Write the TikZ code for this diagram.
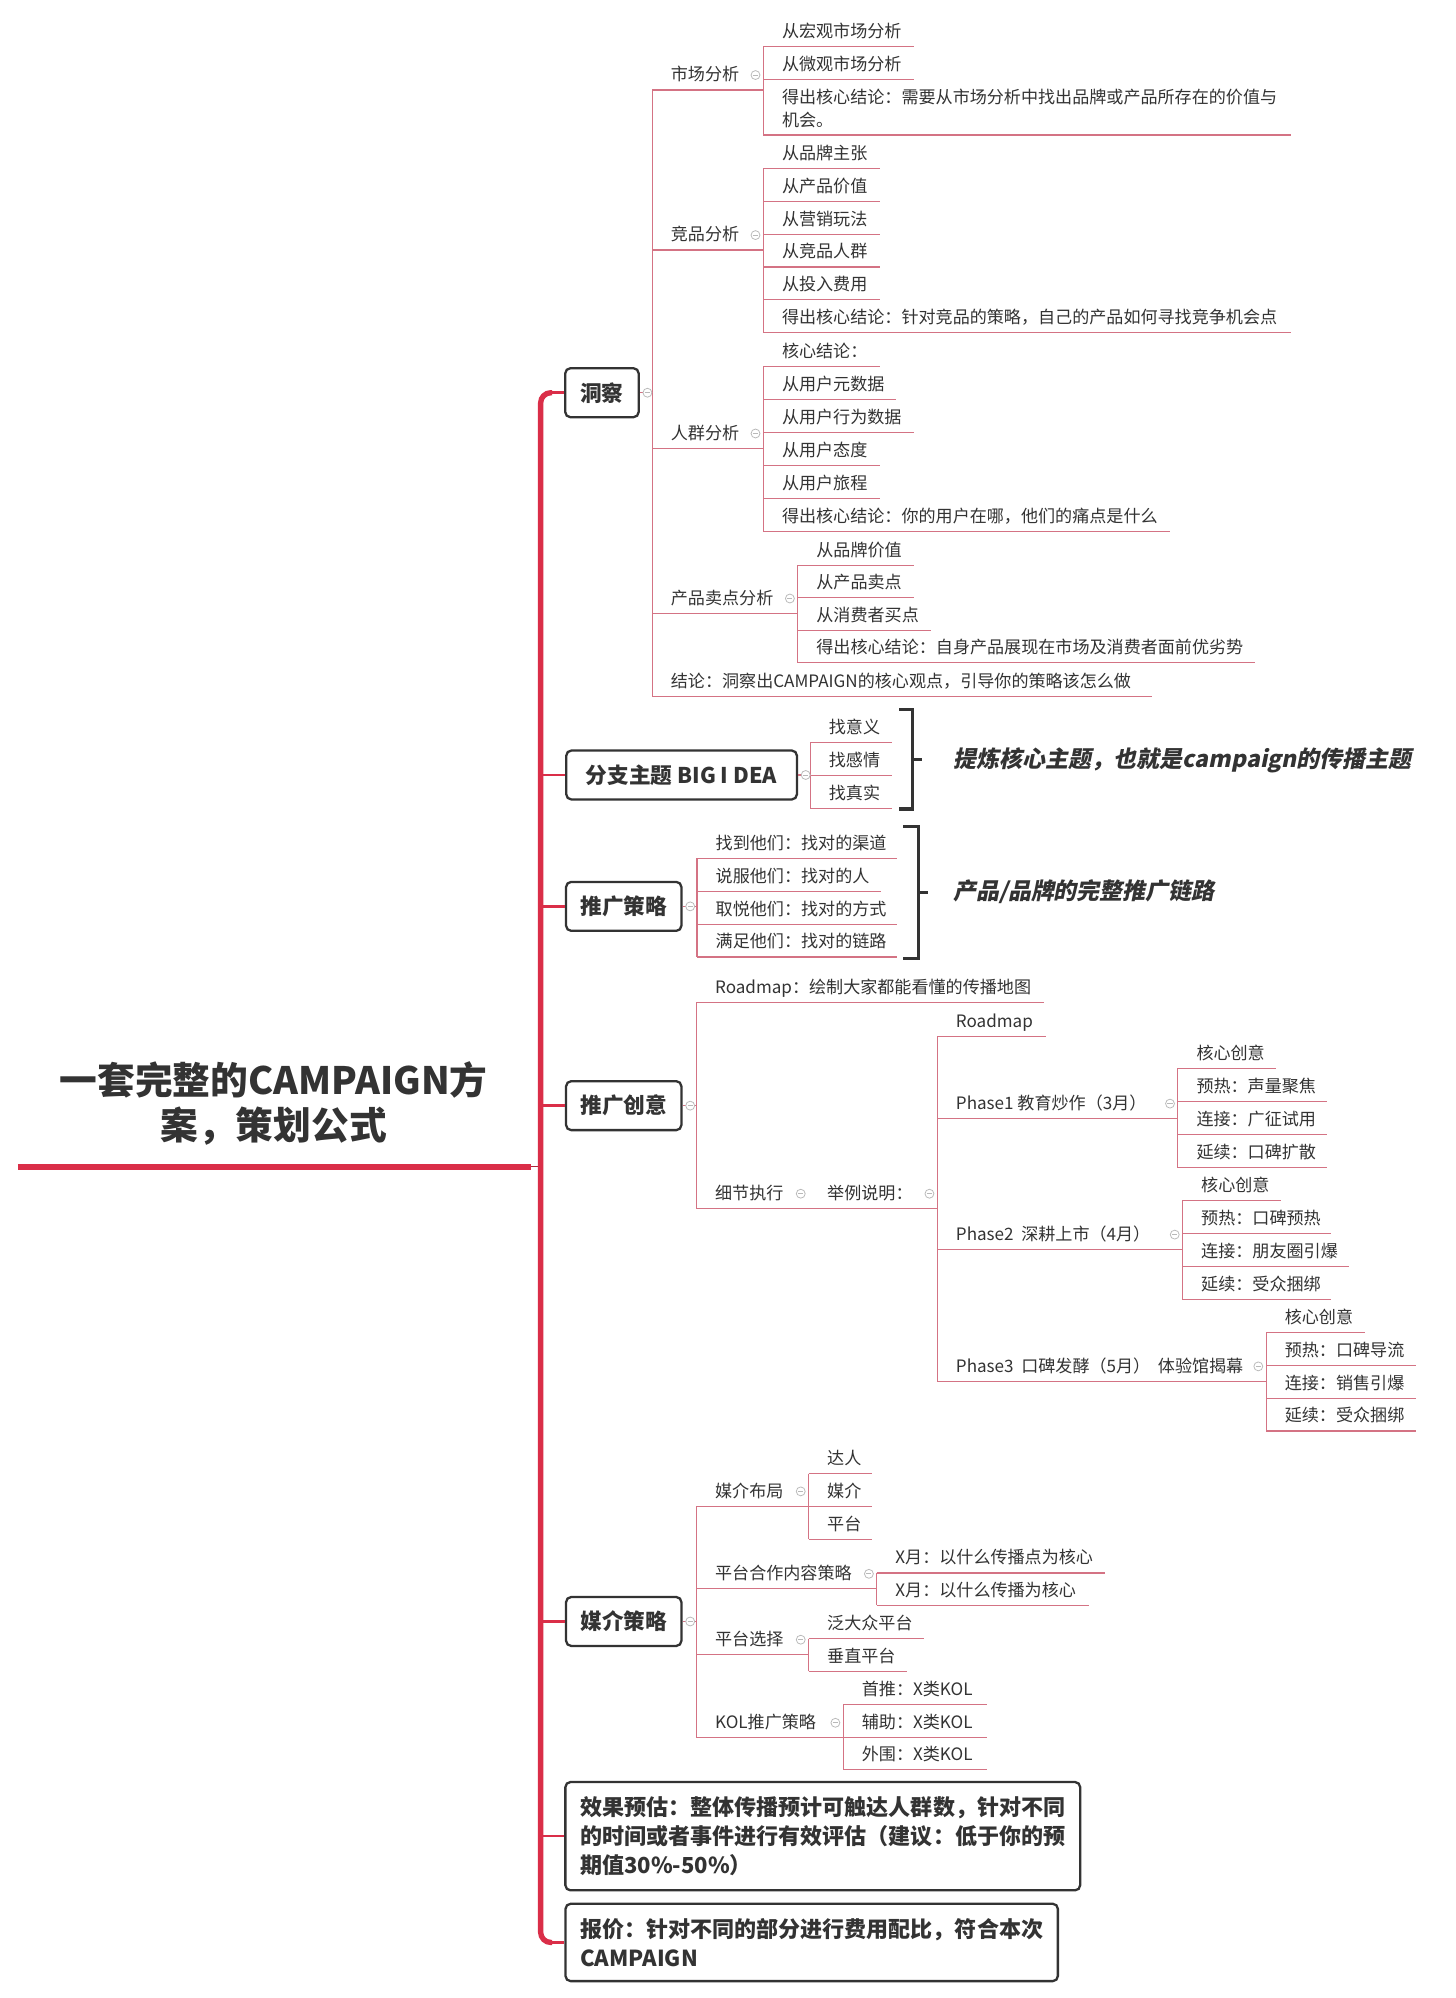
\documentclass[tikz,border=0pt]{standalone}
\usepackage{fontspec}
\setmainfont{Noto Sans CJK SC}
\newfontfamily\slantfam{Noto Sans CJK SC}[FakeSlant=0.2]
\usetikzlibrary{calc}
\definecolor{tx}{HTML}{333333}
\definecolor{spinec}{RGB}{218,46,72}
\definecolor{ulc}{RGB}{212,115,132}
\definecolor{bx}{HTML}{333333}
\definecolor{icc}{RGB}{185,185,185}
\newcommand\tp[5]{\node[topic] (#1) at (#2,#3) {\makebox[\dimexpr #4pt-#2pt\relax][l]{\hspace*{14.5pt}#5}};}
\begin{document}
\begin{tikzpicture}[x=1pt,y=-1pt,
 ul/.style={draw=ulc, line width=0.9pt},
 topic/.style={anchor=south west, inner xsep=0pt, inner ysep=3.4pt, text height=10.5pt, text depth=3.5pt, font=\fontsize{13.4pt}{16pt}\selectfont, text=tx},
 mainbox/.style={draw=bx, line width=1.8pt, rounded corners=4pt, fill=white, font=\bfseries\fontsize{17pt}{20pt}\selectfont, text=tx, minimum height=38.4pt, inner xsep=0pt},
 bigbox/.style={mainbox, align=left, font=\bfseries\fontsize{17.3pt}{23pt}\selectfont},
 spine/.style={draw=spinec, line width=4.2pt},
 branch/.style={draw=spinec, line width=2pt},
 brk/.style={draw=bx, line width=2.6pt},
 lbl/.style={anchor=west, font=\slantfam\bfseries\fontsize{18pt}{20pt}\selectfont, text=tx, inner sep=0pt},
 icon/.style={circle, draw=icc, line width=0.6pt, minimum size=7pt, inner sep=0pt, fill=white,
   path picture={\draw[icc, line width=0.6pt] ([xshift=-2pt]path picture bounding box.center) -- ([xshift=2pt]path picture bounding box.center);}}
]
\fill[white] (0,0) rectangle (1142,1568);
\useasboundingbox (0,0) rectangle (1142,1568);

% ---------- root ----------
\node[font=\bfseries\fontsize{29.6pt}{35.3pt}\selectfont, align=center, text=tx, inner sep=0pt] (root) at (214.8,866) {一套完整的CAMPAIGN方\\案，策划公式};
\coordinate (rootL) at (14,915.7);
\coordinate (rootE) at (417,915.7);
\coordinate (rootR) at (424.3,915.7);

% ---------- main boxes ----------
\node[mainbox, minimum width=57.6pt] (dongcha) at (472.4,308.2) {洞察};
\node[mainbox, minimum width=181pt] (idea) at (534.9,608.2) {分支主题 BIG I DEA};
\node[mainbox, minimum width=90.5pt] (strat) at (489.5,711.3) {推广策略};
\node[mainbox, minimum width=90.5pt] (creative) at (489.5,867.7) {推广创意};
\node[mainbox, minimum width=90.5pt] (media) at (489.5,1272.5) {媒介策略};
\node[bigbox, minimum width=404pt, minimum height=85pt] (effect) at (645.7,1441) {效果预估：整体传播预计可触达人群数，针对不同\\的时间或者事件进行有效评估（建议：低于你的预\\期值30\%-50\%）};
\node[bigbox, minimum width=386.4pt, minimum height=60.7pt] (quote) at (637,1524.4) {报价：针对不同的部分进行费用配比，符合本次\\CAMPAIGN};

% spine
\draw[spine] (rootL) -- (rootE);
\draw[ul, draw=spinec!80!black] (rootE) -- (rootR);
\draw[spine, rounded corners=8pt] ($(dongcha.west -| rootR)+(9,0)$) -- (dongcha.west -| rootR) -- (quote.west -| rootR) -- ++(9,0) coordinate (qj);
\draw[branch] ($(dongcha.west -| rootR)+(8,0)$) -- (dongcha.west);
\draw[branch] (qj) -- (quote.west);
\foreach \n in {idea,strat,creative,media,effect} \draw[branch] (\n.west -| rootR) -- (\n.west);

% ---------- 洞察 ----------
\tp{m1}{511.8}{70.6}{599}{市场分析}
\tp{m2}{511.8}{196.2}{599}{竞品分析}
\tp{m3}{511.8}{351.9}{599}{人群分析}
\tp{m4}{511.8}{481.4}{626}{产品卖点分析}
\tp{m5}{511.8}{546.3}{904}{结论：洞察出CAMPAIGN的核心观点，引导你的策略该怎么做}

\tp{a1}{599}{36.6}{716.6}{从宏观市场分析}
\tp{a2}{599}{62.3}{716.6}{从微观市场分析}
\tp{a3}{599}{106}{1012.6}{\parbox[b]{395pt}{\fontsize{13.4pt}{17.5pt}\selectfont 得出核心结论：需要从市场分析中找出品牌或产品所存在的价值与\\机会。}}

\tp{b1}{599}{132}{690}{从品牌主张}
\tp{b2}{599}{158}{690}{从产品价值}
\tp{b3}{599}{183.8}{690}{从营销玩法}
\tp{b4}{599}{209.5}{690}{从竞品人群}
\tp{b5}{599}{235.3}{690}{从投入费用}
\tp{b6}{599}{261.1}{1012.6}{得出核心结论：针对竞品的策略，自己的产品如何寻找竞争机会点}

\tp{c1}{599}{287.3}{690}{核心结论：}
\tp{c2}{599}{313.3}{703}{从用户元数据}
\tp{c3}{599}{339.3}{716.6}{从用户行为数据}
\tp{c4}{599}{365.2}{690}{从用户态度}
\tp{c5}{599}{391.1}{690}{从用户旅程}
\tp{c6}{599}{416.9}{917.6}{得出核心结论：你的用户在哪，他们的痛点是什么}

\tp{d1}{626}{443.5}{716.6}{从品牌价值}
\tp{d2}{626}{469}{716.6}{从产品卖点}
\tp{d3}{626}{494.6}{730}{从消费者买点}
\tp{d4}{626}{520.2}{984.8}{得出核心结论：自身产品展现在市场及消费者面前优劣势}

% ---------- BIG IDEA ----------
\tp{e1}{635.8}{582.7}{700}{找意义}
\tp{e2}{635.8}{608.6}{700}{找感情}
\tp{e3}{635.8}{634.5}{700}{找真实}

% ---------- 推广策略 ----------
\tp{f1}{547}{673.7}{703.8}{找到他们：找对的渠道}
\tp{f2}{547}{699.5}{691}{说服他们：找对的人}
\tp{f3}{547}{725.3}{703.8}{取悦他们：找对的方式}
\tp{f4}{547}{751}{703.8}{满足他们：找对的链路}

% ---------- 推广创意 ----------
\tp{g1}{546.5}{787}{818.7}{Roadmap：绘制大家都能看懂的传播地图}
\tp{g2}{546.5}{948.5}{634.5}{细节执行}
\tp{g3}{634.5}{948.5}{735.5}{举例说明：}
\tp{h0}{735.5}{813.2}{820.2}{Roadmap}
\tp{h1}{735.5}{877.8}{924.3}{Phase1 教育炒作（3月）}
\tp{h2}{735.5}{980.6}{928}{Phase2\ \ 深耕上市（4月）}
\tp{h3}{735.5}{1084}{993.6}{Phase3\ \ 口碑发酵（5月）\ \ 体验馆揭幕}

\tp{p1}{924.3}{838.5}{1001.3}{核心创意}
\tp{p2}{924.3}{864.5}{1040.7}{预热：声量聚焦}
\tp{p3}{924.3}{890.4}{1040.7}{连接：广征试用}
\tp{p4}{924.3}{916.3}{1040.7}{延续：口碑扩散}

\tp{q1}{928}{941.9}{1005}{核心创意}
\tp{q2}{928}{968}{1044.3}{预热：口碑预热}
\tp{q3}{928}{993.8}{1057.9}{连接：朋友圈引爆}
\tp{q4}{928}{1019.9}{1044.3}{延续：受众捆绑}

\tp{r1}{993.6}{1045.8}{1070.7}{核心创意}
\tp{r2}{993.6}{1071.6}{1111}{预热：口碑导流}
\tp{r3}{993.6}{1097.2}{1111}{连接：销售引爆}
\tp{r4}{993.6}{1123}{1111}{延续：受众捆绑}

% ---------- 媒介策略 ----------
\tp{k1}{546.5}{1182.1}{634.5}{媒介布局}
\tp{k2}{546.5}{1246.8}{688}{平台合作内容策略}
\tp{k3}{546.5}{1298.5}{634.5}{平台选择}
\tp{k4}{546.5}{1363.7}{661.7}{KOL推广策略}

\tp{s1}{634.5}{1156.5}{684.3}{达人}
\tp{s2}{634.5}{1182.1}{684.3}{媒介}
\tp{s3}{634.5}{1208}{684.3}{平台}

\tp{t1}{688}{1234.4}{866.8}{X月：以什么传播点为核心}
\tp{t2}{688}{1259.8}{854.2}{X月：以什么传播为核心}

\tp{u1}{634.5}{1286}{725}{泛大众平台}
\tp{u2}{634.5}{1311.6}{711.5}{垂直平台}

\tp{v1}{661.7}{1337.8}{774}{首推：X类KOL}
\tp{v2}{661.7}{1363.7}{774}{辅助：X类KOL}
\tp{v3}{661.7}{1388.8}{774}{外围：X类KOL}

% ---------- underlines ----------
\foreach \n in {m1,m2,m3,m4,m5,a1,a2,a3,b1,b2,b3,b4,b5,b6,c1,c2,c3,c4,c5,c6,d1,d2,d3,d4,
  e1,e2,e3,f1,f2,f3,f4,g1,g2,g3,h0,h1,h2,h3,p1,p2,p3,p4,q1,q2,q3,q4,r1,r2,r3,r4,
  k1,k2,k3,k4,s1,s2,s3,t1,t2,u1,u2,v1,v2,v3}
  \draw[ul] (\n.south west) -- (\n.south east);

% ---------- verticals ----------
\draw[ul] (m1.south west) -- (m5.south west);
\draw[ul] (a1.south west) -- (a3.south west);
\draw[ul] (b1.south west) -- (b6.south west);
\draw[ul] (c1.south west) -- (c6.south west);
\draw[ul] (d1.south west) -- (d4.south west);
\draw[ul] (e1.south west) -- (e3.south west);
\draw[ul] (f1.south west) -- (f4.south west);
\draw[ul] (g1.south west) -- (g2.south west);
\draw[ul] (h0.south west) -- (h3.south west);
\draw[ul] (p1.south west) -- (p4.south west);
\draw[ul] (q1.south west) -- (q4.south west);
\draw[ul] (r1.south west) -- (r4.south west);
\draw[ul] (k1.south west) -- (k4.south west);
\draw[ul] (s1.south west) -- (s3.south west);
\draw[ul] (t1.south west) -- (t2.south west);
\draw[ul] (u1.south west) -- (u2.south west);
\draw[ul] (v1.south west) -- (v3.south west);

% box to children
\draw[ul] (dongcha.east) -- (dongcha.east -| m1.south west);
\draw[ul] (idea.east) -- (idea.east -| e1.south west);
\draw[ul] (strat.east) -- (strat.east -| f1.south west);
\draw[ul] (creative.east) -- (creative.east -| g1.south west);
\draw[ul] (media.east) -- (media.east -| k1.south west);

% ---------- icons ----------
\foreach \n in {m1,m2,m3,m4,g2,g3,h1,h2,h3,k1,k2,k3,k4}
  \node[icon] (ic-\n) at ($(\n.south east)+(-6.5,-11.7)$) {};
\foreach \n in {dongcha,idea,strat,creative,media}
  \node[icon] (ic-\n) at ($(\n.east)+(6,0)$) {};

% ---------- brackets ----------
\coordinate (b1t) at (716,556.8);
\coordinate (b1b) at (716,635);
\draw[brk] ($(b1t)+(-10.4,0)$) -- (b1t) -- (b1b) -- ++(-10.4,0);
\draw[brk] ($(b1t)!0.5!(b1b)$) -- ++(7.7,0) coordinate (b1tip);
\node[lbl] (sum1) at (748,597) {提炼核心主题，也就是campaign的传播主题};

\coordinate (b2t) at (720.6,648.4);
\coordinate (b2b) at (720.6,752.2);
\draw[brk] ($(b2t)+(-11.6,0)$) -- (b2t) -- (b2b) -- ++(-11.6,0);
\draw[brk] ($(b2t)!0.5!(b2b)$) -- ++(7.4,0) coordinate (b2tip);
\node[lbl] (sum2) at (748,700) {产品/品牌的完整推广链路};
\end{tikzpicture}
\end{document}
